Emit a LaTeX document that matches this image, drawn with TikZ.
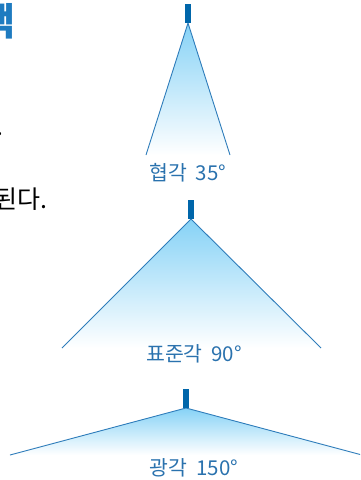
\documentclass[tikz,border=0pt]{standalone}
\usepackage{fontspec}
\newfontfamily\kr{Noto Sans CJK KR}
\definecolor{nozzle}{HTML}{0066AA}
\definecolor{edge}{HTML}{2E7CBA}
\definecolor{labelc}{HTML}{2A72AE}
\definecolor{fanfill}{HTML}{86D2F6}
\definecolor{headc}{HTML}{1E7BC0}
\tikzset{
  nozzlebox/.style={fill=nozzle, draw=none, minimum width=6pt, minimum height=19pt, inner sep=0pt, anchor=south},
  fanedge/.style={draw=edge, line width=0.9pt},
  fanfillst/.style={top color=fanfill, bottom color=white, draw=none},
  fanlabel/.style={font=\kr\fontsize{20.5}{22}\selectfont, text=labelc, inner sep=0pt},
  bodytext/.style={font=\kr\fontsize{25}{28}\selectfont, text=black, inner sep=0pt}
}
\newcommand{\lsp}{\hspace{0.42em}}
\begin{document}
\begin{tikzpicture}[x=1pt,y=1pt]
\useasboundingbox (0,0) rectangle (360,-480);
\clip (0,0) rectangle (360,-480);
% cut-off page text at left
\node[font=\kr\bfseries\fontsize{38}{40}\selectfont, text=headc, inner sep=0pt, anchor=north east] (head) at (16,-3) {백};
\node[bodytext, anchor=base east] (dot1) at (4,-135) {.};
\node[bodytext, anchor=base east] (line2) at (48,-208) {된다.};
% fan 1: 35 deg
\coordinate (a1) at (188,-23);
\coordinate (l1) at (146,-155);
\coordinate (r1) at (230,-155);
\shade[fanfillst] (a1) -- (l1) -- (r1) -- cycle;
\draw[fanedge] (l1) -- (a1) -- (r1);
\node[nozzlebox] (n1) at (a1) {};
\node[fanlabel] (t1) at (188,-173) {협각\lsp 35°};
% fan 2: 90 deg
\coordinate (a2) at (191,-219);
\coordinate (l2) at (62,-348);
\coordinate (r2) at (321,-348);
\shade[fanfillst] (a2) -- (l2) -- (r2) -- cycle;
\draw[fanedge] (l2) -- (a2) -- (r2);
\node[nozzlebox] (n2) at (a2) {};
\node[fanlabel] (t2) at (194,-354) {표준각\lsp 90°};
% fan 3: 150 deg
\coordinate (a3) at (186,-408);
\coordinate (l3) at (10,-455);
\coordinate (r3) at (362,-455);
\shade[fanfillst] (a3) -- (l3) -- (r3) -- cycle;
\draw[fanedge] (l3) -- (a3) -- (r3);
\node[nozzlebox] (n3) at (a3) {};
\node[fanlabel] (t3) at (194,-468) {광각\lsp 150°};
\end{tikzpicture}
\end{document}
